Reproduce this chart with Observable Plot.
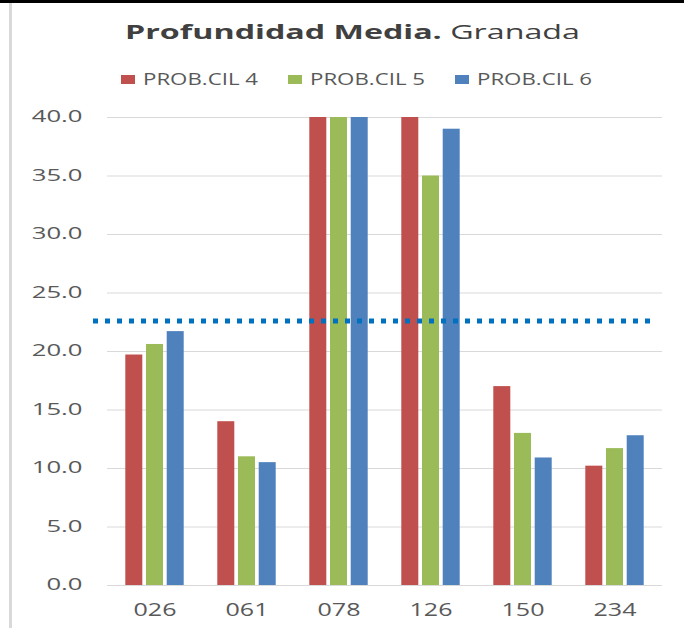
<!DOCTYPE html>
<html><head><meta charset="utf-8">
<script src="https://cdn.jsdelivr.net/npm/d3@7"></script>
<script src="https://cdn.jsdelivr.net/npm/@observablehq/plot@0.6"></script>
<style>
body{margin:0;background:#fff;}
#wrap{position:relative;width:684px;height:628px;overflow:hidden;font-family:"Open Sans",sans-serif;background:#fff;}
#topline{position:absolute;left:0;top:0;width:684px;height:3px;background:#000;}
#leftline{position:absolute;left:9px;top:3px;width:3px;height:625px;background:#d9d9d9;}
.st{position:absolute;white-space:nowrap;transform-origin:0 0;line-height:1;display:inline-block;}
.sw{position:absolute;width:14px;height:8.5px;}
#chart{position:absolute;left:0;top:100px;}
</style></head><body>
<div id="wrap">
<div id="topline"></div><div id="leftline"></div>
<div id="chart"></div>
</div>
<script>
const categories = ["026","061","078","126","150","234"];
const seriesNames = ["PROB.CIL 4","PROB.CIL 5","PROB.CIL 6"];
const cil4 = [19.7, 14.0, 40.0, 40.0, 17.0, 10.2];
const cil5 = [20.6, 11.0, 40.0, 35.0, 13.0, 11.7];
const cil6 = [21.7, 10.5, 40.0, 39.0, 10.9, 12.8];
const referenceLevel = [22.6];
const yTicks = [0, 5, 10, 15, 20, 25, 30, 35, 40];
const colors = ["#C0504D", "#9BBB59", "#4F81BD"];
const titleBold = "Profundidad Media.";
const titleRest = " Granada";

const seriesValues = [cil4, cil5, cil6];
const rows = [];
categories.forEach((c, i) => seriesNames.forEach((s, k) => rows.push({cat: c, series: s, value: seriesValues[k][i]})));

const wrap = document.getElementById("wrap");

// helper: horizontally stretched text
function placeText(html, left, top, size, color, targetWidth, weight) {
  const el = document.createElement("span");
  el.className = "st";
  el.innerHTML = html;
  el.style.left = left + "px";
  el.style.top = top + "px";
  el.style.fontSize = size + "px";
  el.style.color = color;
  if (weight) el.style.fontWeight = weight;
  wrap.appendChild(el);
  const w = el.getBoundingClientRect().width;
  el.style.transform = `scaleX(${targetWidth / w})`;
  return el;
}

// title
placeText(`<b>${titleBold}</b>${titleRest}`, 125, 22.2, 20, "#404040", 455);

// legend
const legendLeft = [120.7, 287.7, 454.7];
seriesNames.forEach((s, k) => {
  const sw = document.createElement("div");
  sw.className = "sw";
  sw.style.left = legendLeft[k] + "px";
  sw.style.top = "75px";
  sw.style.background = colors[k];
  wrap.appendChild(sw);
  placeText(s, legendLeft[k] + 22.6, 70.8, 16, "#595959", 115);
});

const svg = Plot.plot({
  width: 684,
  height: 528,
  marginLeft: 107,
  marginRight: 22,
  marginTop: 17,
  marginBottom: 43,
  style: {fontFamily: '"Open Sans", sans-serif', background: "transparent", overflow: "visible"},
  x: {domain: categories, paddingInner: 0.816, paddingOuter: 0.408},
  y: {domain: [0, 40]},
  color: {domain: seriesNames, range: colors},
  marks: [
    Plot.gridY(yTicks, {stroke: "#d9d9d9", strokeOpacity: 1, strokeWidth: 1}),
    ...seriesNames.map((s, k) => Plot.barY(rows.filter(r => r.series === s), {
      x: "cat", y: "value", fill: "series", dx: (k - 1) * 20.7
    })),
    Plot.ruleY(referenceLevel, {stroke: "#0070C0", strokeWidth: 5, strokeDasharray: "5,7", insetLeft: -14, insetRight: 12}),
    Plot.axisY(yTicks, {tickSize: 0, tickPadding: 25, tickFormat: d => d.toFixed(1), fontSize: 15.5, fill: "#595959", label: null}),
    Plot.axisX({tickSize: 0, tickPadding: 18, fontSize: 18, fill: "#595959", label: null})
  ]
});
document.getElementById("chart").appendChild(svg);

function stretchTexts(selector, targetWidth) {
  const texts = svg.querySelectorAll(selector);
  if (!texts.length) return;
  const w = texts[texts.length - 1].getBBox().width;
  const s = targetWidth / w;
  texts.forEach(t => {
    const x = +(t.getAttribute("x") || 0);
    t.setAttribute("transform", (t.getAttribute("transform") || "") + ` translate(${x},0) scale(${s},1) translate(${-x},0)`);
  });
}
stretchTexts('g[aria-label="y-axis tick label"] text', 51);
stretchTexts('g[aria-label="x-axis tick label"] text', 43);
</script>
</body></html>
